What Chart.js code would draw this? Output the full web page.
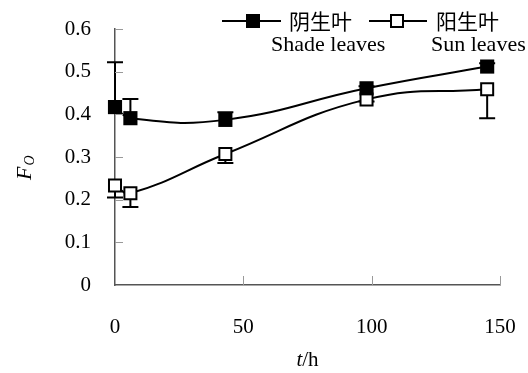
<!DOCTYPE html>
<html>
<head>
<meta charset="utf-8">
<script src="https://cdn.jsdelivr.net/npm/chart.js@4"></script>
<style>
  html, body { margin: 0; padding: 0; background: #fff; }
  #wrap { width: 528px; height: 373px; }
</style>
</head>
<body>
<div id="wrap"><canvas id="c"></canvas></div>
<script>
// data
const hours = [0, 6, 43, 98, 145];
const shade = [0.417, 0.391, 0.387, 0.461, 0.512];
const shadeErr = [0.105, 0.045, 0.018, 0.005, 0.008];   // upward bars
const sun = [0.233, 0.215, 0.307, 0.435, 0.459];
const sunErr = [0.028, 0.032, 0.021, 0.005, 0.068];     // downward bars
const yTicks = [0, 0.1, 0.2, 0.3, 0.4, 0.5, 0.6];
const xTicks = [0, 50, 100, 150];

const serif = "'Liberation Serif', 'DejaVu Serif', serif";
const cjk = "'Noto Sans CJK SC', sans-serif";

const pts = ys => hours.map((h, i) => ({ x: h, y: ys[i] }));

// error bars, inward ticks, legend and axis titles
const extras = {
  id: "extras",
  beforeDatasetsDraw(chart) {
    const ctx = chart.ctx, xs = chart.scales.x, ys = chart.scales.y;
    ctx.save();
    ctx.strokeStyle = "#000";
    ctx.lineWidth = 2;
    const bar = (h, v, end) => {
      const px = xs.getPixelForValue(h);
      const p0 = ys.getPixelForValue(v), p1 = ys.getPixelForValue(end);
      ctx.beginPath();
      ctx.moveTo(px, p0); ctx.lineTo(px, p1);
      ctx.moveTo(px - 8, p1); ctx.lineTo(px + 8, p1);
      ctx.stroke();
    };
    hours.forEach((h, i) => {
      bar(h, shade[i], shade[i] + shadeErr[i]);
      bar(h, sun[i], sun[i] - sunErr[i]);
    });
    ctx.restore();
  },
  afterDraw(chart) {
    const ctx = chart.ctx, xs = chart.scales.x, ys = chart.scales.y;
    const a = chart.chartArea;
    ctx.save();
    // inward tick marks
    ctx.strokeStyle = "#999";
    ctx.lineWidth = 1;
    ctx.beginPath();
    yTicks.slice(1).forEach(v => {
      const py = Math.round(ys.getPixelForValue(v)) + 0.5;
      ctx.moveTo(a.left, py); ctx.lineTo(a.left + 8, py);
    });
    xTicks.slice(1).forEach(v => {
      const px = Math.round(xs.getPixelForValue(v)) + 0.5;
      ctx.moveTo(px, a.bottom); ctx.lineTo(px, a.bottom - 9);
    });
    ctx.stroke();

    // legend
    ctx.strokeStyle = "#000";
    ctx.fillStyle = "#000";
    ctx.lineWidth = 2;
    ctx.beginPath();
    ctx.moveTo(222, 21); ctx.lineTo(281, 21);
    ctx.moveTo(369, 21); ctx.lineTo(427, 21);
    ctx.stroke();
    ctx.fillRect(246, 14, 14, 14);
    ctx.fillStyle = "#fff";
    ctx.fillRect(391, 15, 12, 12);
    ctx.strokeRect(391, 15, 12, 12);
    ctx.fillStyle = "#000";
    ctx.textBaseline = "middle";
    ctx.textAlign = "left";
    ctx.font = "21px " + cjk;
    ctx.fillText("阴生叶", 289, 21);
    ctx.fillText("阳生叶", 436, 21);
    ctx.font = "22px " + serif;
    ctx.fillText("Shade leaves", 271, 45);
    ctx.fillText("Sun leaves", 431, 45);

    // x title: t/h
    ctx.textBaseline = "alphabetic";
    ctx.font = "italic 21px " + serif;
    const tw = ctx.measureText("t").width;
    ctx.font = "21px " + serif;
    const hw = ctx.measureText("/h").width;
    const cx = (a.left + a.right) / 2;
    let sx = cx - (tw + hw) / 2;
    ctx.font = "italic 21px " + serif;
    ctx.fillText("t", sx, 366);
    ctx.font = "21px " + serif;
    ctx.fillText("/h", sx + tw, 366);

    // y title: F with subscript O, rotated
    ctx.translate(31, 180);
    ctx.rotate(-Math.PI / 2);
    ctx.font = "italic 22px " + serif;
    ctx.fillText("F", 0, 0);
    const fw = ctx.measureText("F").width;
    ctx.font = "italic 14px " + serif;
    ctx.fillText("O", fw + 1, 3);
    ctx.restore();
  }
};

new Chart(document.getElementById("c"), {
  type: "line",
  data: {
    datasets: [
      {
        label: "阴生叶 Shade leaves",
        data: pts(shade),
        borderColor: "#000",
        borderWidth: 2,
        tension: 0.45,
        pointStyle: "rect",
        pointRadius: 10,
        pointBackgroundColor: "#000",
        pointBorderColor: "#000",
        pointBorderWidth: 0,
        clip: false
      },
      {
        label: "阳生叶 Sun leaves",
        data: pts(sun),
        borderColor: "#000",
        borderWidth: 2,
        tension: 0.45,
        pointStyle: "rect",
        pointRadius: 8.5,
        pointBackgroundColor: "#fff",
        pointBorderColor: "#000",
        pointBorderWidth: 2,
        clip: false
      }
    ]
  },
  plugins: [extras],
  options: {
    responsive: true,
    maintainAspectRatio: false,
    animation: false,
    events: [],
    layout: { padding: { left: 0, right: 28, top: 29, bottom: 0 } },
    plugins: { legend: { display: false }, tooltip: { enabled: false } },
    scales: {
      x: {
        type: "linear",
        min: 0,
        max: 150,
        afterBuildTicks: s => { s.ticks = xTicks.map(v => ({ value: v })); },
        afterFit: s => { s.height = 88; s.paddingLeft = 0; s.paddingRight = 0; },
        grid: { display: false, drawTicks: false },
        border: { display: true, color: "#555", width: 1.5 },
        ticks: { color: "#000", font: { family: serif, size: 21 }, padding: 30, maxRotation: 0 }
      },
      y: {
        min: 0,
        max: 0.6,
        afterBuildTicks: s => { s.ticks = yTicks.map(v => ({ value: v })); },
        afterFit: s => { s.width = 115; s.paddingTop = 0; s.paddingBottom = 0; },
        grid: { display: false, drawTicks: false },
        border: { display: true, color: "#555", width: 1.5 },
        ticks: {
          color: "#000",
          font: { family: serif, size: 21 },
          padding: 24,
          callback: v => (v === 0 ? "0" : v.toFixed(1))
        }
      }
    }
  }
});
</script>
</body>
</html>
